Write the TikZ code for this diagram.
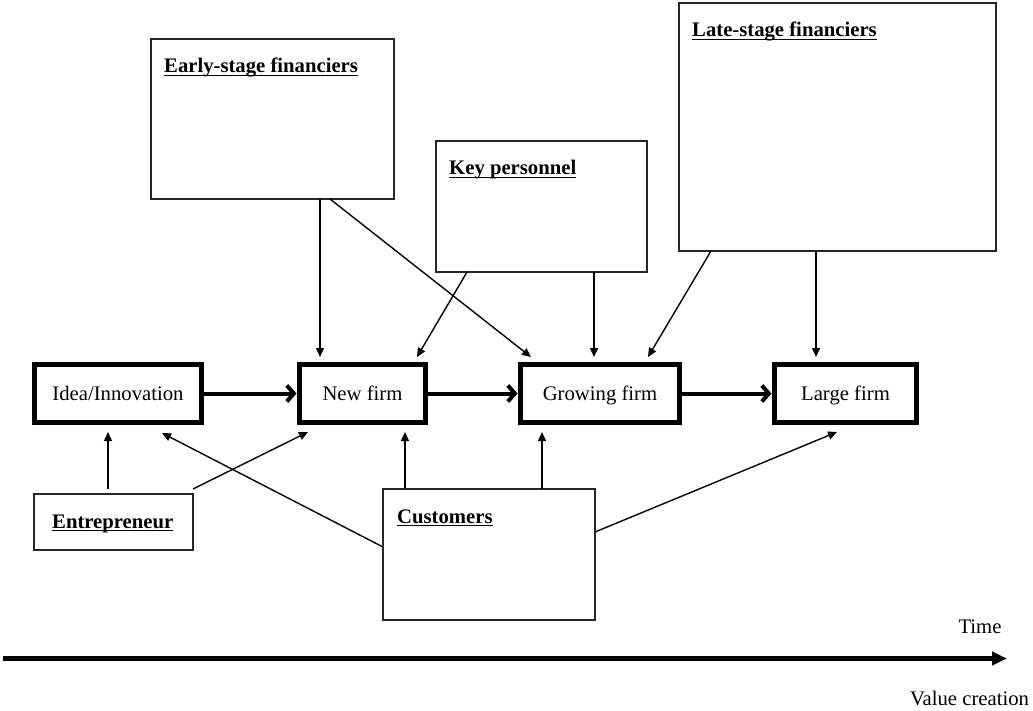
\documentclass[tikz,border=0pt]{standalone}
\usepackage{fontspec}
\setmainfont{Liberation Serif}
\usetikzlibrary{arrows.meta,calc}
\newlength\ulwd
\newcommand\ulbold[1]{\settowidth\ulwd{\textbf{#1}}\textbf{#1}\hspace{-\ulwd}\rule[-3.2pt]{\ulwd}{1.5pt}}
\begin{document}
\begin{tikzpicture}[x=1pt,y=-1pt,
  every node/.style={font=\fontsize{20.7}{24}\selectfont},
  thinbox/.style={draw=black!85, line width=1.3pt, inner sep=0pt, outer sep=0pt, anchor=north west},
  stagebox/.style={draw, line width=5pt, inner sep=0pt, outer sep=0pt, anchor=north west, text height=14pt, text depth=0pt},
  boxlabel/.style={anchor=base west, inner sep=0pt},
  conn/.style={line width=1.4pt, -{Triangle[length=9pt,width=8pt]}},
  flow/.style={line width=4pt, -{Straight Barb[length=7pt,width=16pt]}, shorten >=3pt},
  axis/.style={line width=5pt, -{Triangle[length=15pt,width=13pt]}},
]
\useasboundingbox (0,0) rectangle (1033,711);

% boxes
\node[thinbox, minimum width=243pt, minimum height=160pt] (early) at (151,39) {};
\node[thinbox, minimum width=211pt, minimum height=131pt] (key) at (436,141) {};
\node[thinbox, minimum width=317pt, minimum height=248pt] (late) at (679,3) {};
\node[thinbox, minimum width=159pt, minimum height=56pt] (ent) at (34,494) {};
\node[thinbox, minimum width=212pt, minimum height=131pt] (cust) at (383,489) {};

\node[stagebox, minimum width=167pt, minimum height=58pt] (idea) at (34.5,364.5) {Idea/Innovation};
\node[stagebox, minimum width=126pt, minimum height=58pt] (new) at (299.5,364.5) {New firm\hspace{14pt}};
\node[stagebox, minimum width=159pt, minimum height=58pt] (grow) at (520.5,364.5) {Growing firm};
\node[stagebox, minimum width=142pt, minimum height=58pt] (large) at (774.5,364.5) {Large firm};

% labels
\node[boxlabel] (earlyT) at ([shift={(13,34)}]early.north west) {\ulbold{Early-stage financiers}};
\node[boxlabel] (keyT) at ([shift={(13,34)}]key.north west) {\ulbold{Key personnel}};
\node[boxlabel] (lateT) at ([shift={(13,34)}]late.north west) {\ulbold{Late-stage financiers}};
\node[boxlabel] (entT) at ([shift={(18,34)}]ent.north west) {\ulbold{Entrepreneur}};
\node[boxlabel] (custT) at ([shift={(14,34)}]cust.north west) {\ulbold{Customers}};

% flow arrows
\draw[flow] (idea.east) -- (new.west);
\draw[flow] (new.east) -- (grow.west);
\draw[flow] (grow.east) -- (large.west);

% connectors from above
\draw[conn] ([shift={(169,0)}]early.south west) -- ([shift={(20.5,-7.5)}]new.north west);
\draw[conn] ([shift={(179,0)}]early.south west) -- ([shift={(10.5,-7.5)}]grow.north west);
\draw[conn] ([shift={(31,0)}]key.south west) -- ([shift={(117.5,-7.5)}]new.north west);
\draw[conn] ([shift={(158,0)}]key.south west) -- ([shift={(73.5,-7.5)}]grow.north west);
\draw[conn] ([shift={(32,0)}]late.south west) -- ([shift={(127.5,-7.5)}]grow.north west);
\draw[conn] ([shift={(137,0)}]late.south west) -- ([shift={(41.5,-7.5)}]large.north west);

% connectors from below
\draw[conn] ([shift={(74,-5)}]ent.north west) -- ([shift={(73.5,9.5)}]idea.south west);
\draw[conn] ([shift={(0,-5)}]ent.north east) -- ([shift={(8.5,9.5)}]new.south west);
\draw[conn] ([shift={(0,58)}]cust.north west) -- ([shift={(127.5,10.5)}]idea.south west);
\draw[conn] ([shift={(22,-1)}]cust.north west) -- ([shift={(105.5,9.5)}]new.south west);
\draw[conn] ([shift={(159,0)}]cust.north west) -- ([shift={(21.5,9.5)}]grow.south west);
\draw[conn] ([shift={(0,43)}]cust.north east) -- ([shift={(62.5,9.5)}]large.south west);

% time axis
\coordinate (tstart) at (3,658.5);
\coordinate (tend) at (1007,658.5);
\draw[axis] (tstart) -- (tend);
\node[anchor=base, inner sep=0pt] (time) at (980,633) {Time};
\node[anchor=base, inner sep=0pt] (value) at (969.5,705) {Value creation};
\end{tikzpicture}
\end{document}
